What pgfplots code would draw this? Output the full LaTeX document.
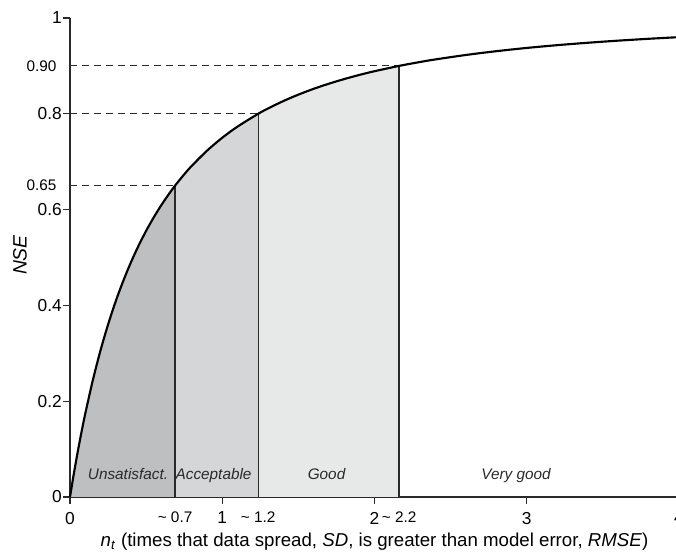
\documentclass[border=0pt]{standalone}
\usepackage{fontspec}
\setmainfont{Liberation Sans}
\usepackage{pgfplots}
\pgfplotsset{compat=1.18}
\definecolor{cUns}{HTML}{BEBFC1}
\definecolor{cAcc}{HTML}{D5D6D8}
\definecolor{cGood}{HTML}{E7E8E8}
\definecolor{axcol}{HTML}{2A2A2A}
\begin{document}
\begin{tikzpicture}
\begin{axis}[
  scale only axis, width=456.75pt, height=359.25pt,
  xmin=0, xmax=4, ymin=0, ymax=1,
  axis x line=bottom, axis y line=left,
  axis line style={-, line width=0.9pt, color=axcol},
  tick align=outside, major tick length=5pt,
  tick style={line width=0.8pt, color=axcol},
  xtick={0,1,2,3,4}, xticklabels={0,1,2,3,4},
  ytick={0,0.2,0.4,0.6,0.8,1}, yticklabels={0,0.2,0.4,0.6,0.8,1},
  tick label style={font=\fontsize{13}{15}\selectfont},
  yticklabel style={inner sep=1pt},
  xticklabel style={inner sep=1pt, yshift=-5pt},
  extra x ticks={0.690,1.236,2.162},
  extra x tick labels={\textasciitilde\ 0.7,\textasciitilde\ 1.2,\raisebox{3pt}{\textasciitilde\ 2.2}},
  extra x tick style={major tick length=0pt, tick label style={font=\fontsize{11.5}{13}\selectfont, yshift=-5pt}},
  extra y ticks={0.65,0.9}, extra y tick labels={0.65,0.90},
  extra y tick style={major tick length=0pt, tick label style={font=\fontsize{11.5}{13}\selectfont, xshift=-9pt}},
  clip=false,
]
\coordinate (O) at (axis cs:0,0);
% shaded regions under the curve
\addplot[fill=cUns, draw=none] coordinates {
 (0,0) (0.025,0.0482) (0.05,0.0930) (0.075,0.1347) (0.1,0.1736) (0.15,0.2439)
 (0.2,0.3056) (0.25,0.36) (0.3,0.4083) (0.35,0.4513) (0.4,0.4898) (0.45,0.5244)
 (0.5,0.5556) (0.55,0.5838) (0.6,0.6094) (0.65,0.6327) (0.690,0.65) (0.690,0)} -- cycle;
\addplot[fill=cAcc, draw=none] coordinates {
 (0.690,0) (0.690,0.65) (0.75,0.6735) (0.8,0.6914) (0.9,0.7230) (1.0,0.75)
 (1.1,0.7732) (1.236,0.8) (1.236,0)} -- cycle;
\addplot[fill=cGood, draw=none] coordinates {
 (1.236,0) (1.236,0.8) (1.3,0.8110) (1.4,0.8264) (1.5,0.84) (1.6,0.8521)
 (1.7,0.8628) (1.8,0.8724) (1.9,0.8811) (2.0,0.8889) (2.162,0.9) (2.162,0)} -- cycle;
% vertical boundaries
\addplot[axcol, line width=1pt] coordinates {(0.690,0) (0.690,0.65)};
\addplot[axcol, line width=1pt] coordinates {(1.236,0) (1.236,0.8)};
\addplot[axcol, line width=1pt] coordinates {(2.162,0) (2.162,0.9)};
% dashed guides
\addplot[axcol, line width=0.8pt, dash pattern=on 5pt off 4pt] coordinates {(0,0.65) (0.690,0.65)};
\addplot[axcol, line width=0.8pt, dash pattern=on 5pt off 4pt] coordinates {(0,0.8) (1.236,0.8)};
\addplot[axcol, line width=0.8pt, dash pattern=on 5pt off 4pt] coordinates {(0,0.9) (2.162,0.9)};
% curve
\addplot[black, line width=1.6pt, smooth] coordinates {
 (0,0) (0.025,0.0482) (0.05,0.0930) (0.075,0.1347) (0.1,0.1736) (0.15,0.2439)
 (0.2,0.3056) (0.25,0.36) (0.3,0.4083) (0.35,0.4513) (0.4,0.4898) (0.45,0.5244)
 (0.5,0.5556) (0.55,0.5838) (0.6,0.6094) (0.65,0.6327) (0.690,0.65) (0.75,0.6735)
 (0.8,0.6914) (0.9,0.7230) (1.0,0.75) (1.1,0.7732) (1.236,0.8) (1.3,0.8110)
 (1.4,0.8264) (1.5,0.84) (1.6,0.8521) (1.7,0.8628) (1.8,0.8724) (1.9,0.8811)
 (2.0,0.8889) (2.162,0.9) (2.3,0.9082) (2.4,0.9135) (2.6,0.9228) (2.8,0.9307)
 (3.0,0.9375) (3.2,0.9433) (3.4,0.9483) (3.6,0.9527) (3.8,0.9566) (4.0,0.96)};
% region labels
\begin{scope}[every node/.style={font=\fontsize{11.5}{13}\selectfont\itshape, anchor=base, text=axcol}]
\node at (axis cs:0.381,0.0355) {Unsatisfact.};
\node at (axis cs:0.943,0.0355) {Acceptable};
\node at (axis cs:1.685,0.0355) {Good};
\node at (axis cs:2.93,0.0355) {Very good};
\end{scope}
% axis labels
\node[rotate=90, font=\fontsize{14.5}{17}\selectfont\itshape, anchor=center] at ([xshift=-37.5pt]axis cs:0,0.505) {NSE};
\node[font=\fontsize{14}{17}\selectfont, anchor=base] at ([yshift=-37pt]axis cs:2,0) {\textit{n}\textsubscript{\textit{t}} (times that data spread, \textit{SD}, is greater than model error, \textit{RMSE})};
\end{axis}
\pgfresetboundingbox
\path ([shift={(-52.5pt,-42.75pt)}]O) rectangle ([shift={(454.5pt,372.75pt)}]O);
\end{tikzpicture}
\end{document}
